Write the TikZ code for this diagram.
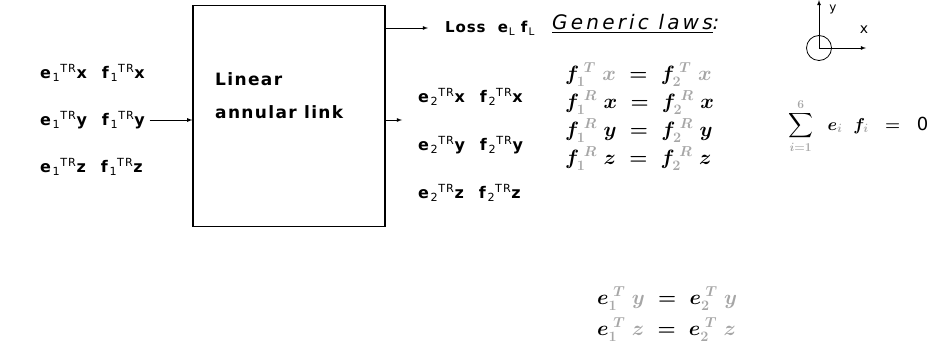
\documentclass[tikz,border=0pt]{standalone}
\usepackage{amsmath}
\usepackage{fontspec}
\setsansfont{DejaVu Sans}
\usetikzlibrary{arrows,positioning}

\newcommand{\gr}[1]{\textcolor{black!35}{#1}}
% port label: e_i^TR a  f_i^TR a
\newcommand{\portlbl}[2]{\textbf{e}\textsubscript{#1}\textsuperscript{TR}\textbf{#2}\ \ \textbf{f}\textsubscript{#1}\textsuperscript{TR}\textbf{#2}}

\begin{document}
\begin{tikzpicture}[
    x=1pt, y=-1pt,
    >=latex,
    port/.style={font=\sffamily\fontsize{16}{18}\selectfont\addfontfeatures{LetterSpace=10}, anchor=west, inner sep=0pt},
    law/.style={font=\fontsize{20}{22}\selectfont\boldmath, anchor=west, inner sep=0pt},
    flow/.style={->, thick}
]
\useasboundingbox (0,0) rectangle (928,358);

\node[draw, very thick, minimum width=192, minimum height=221, inner sep=0pt] (link) at (289,116) {};
\node[font=\sffamily\bfseries\fontsize{17}{33}\selectfont\addfontfeatures{LetterSpace=8}, align=left, anchor=north west, inner sep=0pt] (linktxt) at (215,72) {Linear\\annular link};

% inputs (side 1)
\node[port] (in1x) at (40,73) {\portlbl{1}{x}};
\node[port] (in1y) at (40,120) {\portlbl{1}{y}};
\node[port] (in1z) at (40,167) {\portlbl{1}{z}};

% outputs (side 2)
\node[port] (out2x) at (418,97) {\portlbl{2}{x}};
\node[port] (out2y) at (418,145) {\portlbl{2}{y}};
\node[port] (out2z) at (418,193) {\portlbl{2}{z}};
\coordinate (outend) at (402,120);

% loss
\node[port, font=\sffamily\fontsize{15}{18}\selectfont\addfontfeatures{LetterSpace=6}] (loss) at (445,28) {\textbf{Loss \ e}\textsubscript{L}\ \textbf{f}\textsubscript{L}};
\node[anchor=west, inner sep=0pt, font=\sffamily\itshape\fontsize{20}{22}\selectfont\addfontfeatures{LetterSpace=16}] (laws) at (552,24) {\underline{Generic laws}:};

\draw[flow] ([xshift=3pt]in1y.east) -- (link.west |- in1y);
\draw[flow] (link.east |- outend) -- (outend);
\draw[flow] (link.east |- loss) -- ([xshift=-17pt]loss.west);

% generic laws
\node[law] (lawTx) at (565,75) {$f_{\gr{1}}^{\;\gr{T}}\;\gr{x} \;=\; f_{\gr{2}}^{\;\gr{T}}\;\gr{x}$};
\node[law] (lawRx) at (565,103) {$f_{\gr{1}}^{\;\gr{R}}\;x \;=\; f_{\gr{2}}^{\;\gr{R}}\;x$};
\node[law] (lawRy) at (565,131) {$f_{\gr{1}}^{\;\gr{R}}\;y \;=\; f_{\gr{2}}^{\;\gr{R}}\;y$};
\node[law] (lawRz) at (565,159) {$f_{\gr{1}}^{\;\gr{R}}\;z \;=\; f_{\gr{2}}^{\;\gr{R}}\;z$};
\node[law] (lawTy) at (597,299) {$e_{\gr{1}}^{\;\gr{T}}\;\gr{y} \;=\; e_{\gr{2}}^{\;\gr{T}}\;\gr{y}$};
\node[law] (lawTz) at (597,330) {$e_{\gr{1}}^{\;\gr{T}}\;\gr{z} \;=\; e_{\gr{2}}^{\;\gr{T}}\;\gr{z}$};

% power balance
\node[law, font=\fontsize{18}{20}\selectfont\boldmath] (sum) at (788,126) {$\displaystyle\sum_{\gr{i=1}}^{\gr{6}}\;\; e_{\gr{i}}\;\; f_{\gr{i}}\;\;=\;\;\textsf{\mdseries\fontsize{18}{20}\selectfont 0}$};

% axes
\node[draw, circle, thick, minimum size=25, inner sep=0pt] (orig) at (819,48) {};
\coordinate (yend) at (819,0);
\coordinate (xend) at (866,48);
\draw[flow] (orig.center) -- (yend);
\draw[flow] (orig.center) -- (xend);
\node[font=\sffamily\fontsize{12}{12}\selectfont] (ylbl) at (833,9) {y};
\node[font=\sffamily\fontsize{14}{14}\selectfont] (xlbl) at (864,30) {x};
\end{tikzpicture}
\end{document}
